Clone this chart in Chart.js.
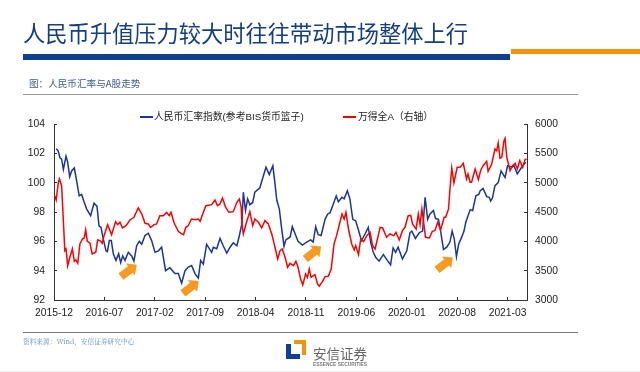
<!DOCTYPE html>
<html>
<head>
<meta charset="utf-8">
<script src="https://cdn.jsdelivr.net/npm/chart.js@4"></script>
<style>
  html, body { margin: 0; padding: 0; background: #fff; }
  #page { position: relative; width: 640px; height: 372px; overflow: hidden; font-family: "Noto Sans CJK SC", sans-serif; }
  #page div, #page svg { position: absolute; white-space: nowrap; }
  canvas { position: absolute; left: 0; top: 0; }
  .legend { font: 9.8px "Liberation Sans", "Noto Sans CJK SC", sans-serif; color: #222; line-height: 12px; top: 111px; }
</style>
</head>
<body>
<div id="page">
  <canvas id="rateChart" width="640" height="372"></canvas>
  <div style="left:23px;top:17px;font-size:22.25px;line-height:30px;color:#123f86;">人民币升值压力较大时往往带动市场整体上行</div>
  <div style="left:23px;top:54px;width:487px;height:6px;background:#0d3f8f;"></div>
  <div style="left:511px;top:49px;width:129px;height:5px;background:#f7930a;"></div>
  <div style="left:29px;top:76px;font-size:9.6px;line-height:14px;color:#3c5f94;">图：人民币汇率与A股走势</div>
  <div style="left:23px;top:94px;width:555px;height:1px;background:#999;"></div>
  <div style="left:140px;top:116px;width:13px;height:1.5px;background:#1a369c;"></div>
  <div class="legend" style="left:154px;">人民币汇率指数(参考BIS货币篮子)</div>
  <div style="left:343px;top:116px;width:13px;height:1.5px;background:#ff0000;"></div>
  <div class="legend" style="left:358px;">万得全A（右轴）</div>
  <div style="left:23px;top:332px;width:555px;height:1px;background:#777;"></div>
  <div style="left:23px;top:336px;font:6.7px/10px 'Noto Serif CJK SC','Liberation Serif','Noto Sans CJK SC',serif;color:#5f8cc8;">资料来源：Wind，安信证券研究中心</div>
  <svg style="left:285px;top:339px;" width="22" height="21" viewBox="0 0 22 21">
    <polygon points="1,5 6,5 6,15 15,15 15,20 1,20" fill="#0d3f9f"/>
    <polygon points="9,1 21,1 21,16 17,16 17,5 9,5" fill="#f7930a"/>
  </svg>
  <div style="left:313px;top:343px;font-size:13.5px;line-height:20px;color:#666;">安信证券</div>
  <div style="left:313px;top:361px;font:bold 4.9px/7px 'Liberation Sans',sans-serif;color:#777;">ESSENCE SECURITIES</div>
  <div style="left:0;top:371px;width:640px;height:1px;background:#eee;"></div>
</div>
<script>
const xLabels = ['2015-12', '2016-07', '2017-02', '2017-09', '2018-04', '2018-11', '2019-06', '2020-01', '2020-08', '2021-03'];

const rateName = '人民币汇率指数(参考BIS货币篮子)';
const stockName = '万得全A（右轴）';

// months since 2015-12
const rateMonths = [0.3, 0.55, 0.83, 1.06, 1.3, 1.67, 1.9, 2.18, 2.45, 2.82, 3.15, 3.5, 3.84, 4.17, 4.54, 5.09, 5.56, 5.97, 6.25, 6.53, 6.85, 7.22, 7.41, 7.69, 7.96, 8.24, 8.61, 8.98, 9.26, 9.54, 9.86, 10.32, 10.79, 11.1, 11.48, 11.85, 12.18, 12.64, 13.1, 13.56, 14.03, 14.5, 14.95, 15.5, 16.1, 16.8, 17.27, 17.73, 18.2, 18.66, 19.12, 19.58, 20.05, 20.37, 20.74, 21.2, 21.9, 22.13, 22.6, 23.06, 23.5, 24.0, 24.45, 24.9, 25.4, 25.75, 26.1, 26.3, 26.6, 26.9, 27.2, 27.6, 27.9, 28.6, 28.95, 29.45, 29.9, 30.4, 30.7, 30.95, 31.3, 31.6, 31.95, 32.2, 32.8, 33.1, 33.5, 33.9, 34.5, 35.1, 35.65, 36.0, 36.35, 36.7, 37.1, 37.65, 38.0, 38.35, 38.8, 39.2, 39.5, 40.0, 40.3, 40.75, 41.1, 41.5, 41.9, 42.3, 42.7, 43.2, 43.65, 44.0, 44.35, 44.7, 45.15, 45.75, 46.3, 46.75, 47.1, 47.45, 47.8, 48.4, 49.0, 49.45, 49.7, 50.2, 50.75, 51.2, 51.55, 51.9, 52.2, 52.7, 53.0, 53.4, 53.7, 54.1, 54.55, 55.0, 55.3, 55.6, 55.9, 56.2, 56.6, 56.95, 57.2, 57.8, 58.15, 58.6, 59.0, 59.2, 59.6, 60.1, 60.45, 60.65, 60.9, 61.25, 61.7, 62.1, 62.65, 63.0, 63.6, 63.9, 64.35, 64.95, 65.55];
const rateValues = [102.3, 102.2, 101.7, 101.6, 100.9, 101.8, 101.4, 100.4, 100.8, 101.0, 100.1, 99.1, 99.2, 98.7, 98.2, 97.75, 98.6, 98.4, 97.05, 96.95, 96.15, 95.35, 95.3, 96.05, 96.05, 95.15, 94.7, 95.15, 94.55, 95.0, 94.7, 95.25, 95.0, 94.65, 95.7, 96.0, 95.8, 96.4, 96.55, 96.05, 95.25, 95.35, 95.6, 94.0, 94.2, 93.8, 93.8, 93.15, 94.0, 94.25, 94.35, 93.8, 93.5, 94.7, 94.45, 95.8, 95.25, 95.6, 95.5, 96.2, 95.7, 95.2, 95.6, 95.9, 95.7, 96.4, 97.2, 99.35, 98.1, 98.9, 98.5, 98.65, 99.35, 99.65, 100.25, 101.05, 100.55, 101.15, 99.9, 98.8, 98.2, 96.95, 95.65, 96.1, 96.3, 97.0, 96.5, 96.0, 95.75, 95.95, 96.1, 95.95, 97.0, 96.45, 96.4, 97.5, 97.85, 97.95, 98.55, 99.1, 98.7, 99.0, 98.9, 99.45, 98.9, 97.5, 97.4, 96.75, 96.05, 96.5, 96.95, 95.9, 95.25, 94.9, 94.65, 95.1, 94.7, 94.4, 95.55, 95.25, 95.6, 94.8, 95.35, 96.6, 96.7, 96.2, 96.6, 96.7, 99.0, 97.5, 97.85, 98.1, 97.55, 97.5, 96.7, 95.45, 95.6, 95.95, 96.7, 96.15, 94.95, 95.8, 96.25, 96.7, 97.3, 98.15, 98.1, 99.1, 99.2, 99.45, 99.6, 99.05, 99.0, 98.75, 98.95, 99.8, 100.0, 100.8, 100.35, 101.15, 101.05, 101.15, 100.6, 101.05, 101.4];

const stockMonths = [0.1, 0.3, 0.6, 0.75, 1.06, 1.3, 1.5, 1.67, 1.9, 2.2, 2.55, 2.82, 3.05, 3.3, 3.6, 3.95, 4.2, 4.4, 4.63, 5.0, 5.3, 5.8, 6.06, 6.4, 6.7, 6.95, 7.45, 8.0, 8.56, 8.84, 9.17, 9.5, 10.0, 10.55, 11.1, 11.7, 12.2, 12.64, 13.1, 13.4, 13.9, 14.25, 14.7, 15.2, 15.65, 16.0, 16.25, 16.7, 17.27, 17.64, 18.0, 18.3, 18.66, 19.1, 19.6, 20.0, 20.3, 20.65, 21.1, 21.9, 22.36, 22.7, 23.05, 23.4, 23.85, 24.3, 24.9, 25.4, 25.75, 26.0, 26.1, 26.3, 26.67, 27.2, 27.6, 27.9, 28.4, 28.85, 29.3, 29.77, 30.25, 30.7, 31.07, 31.4, 31.7, 32.1, 32.45, 32.8, 33.25, 33.6, 33.9, 34.25, 34.55, 34.95, 35.2, 35.45, 35.7, 36.25, 36.6, 36.85, 37.3, 37.65, 38.1, 38.5, 38.9, 39.25, 39.6, 40.0, 40.3, 40.55, 40.9, 41.35, 41.7, 41.9, 42.3, 42.6, 43.0, 43.45, 43.9, 44.25, 44.6, 45.3, 45.65, 46.2, 46.67, 47.2, 47.5, 47.95, 48.4, 48.75, 49.2, 49.55, 49.8, 50.3, 50.6, 50.85, 51.1, 51.4, 51.6, 52.15, 52.55, 52.9, 53.3, 53.7, 54.2, 54.4, 54.8, 55.0, 55.25, 55.55, 56.0, 56.4, 56.85, 57.3, 57.5, 57.8, 58.0, 58.5, 58.95, 59.25, 59.6, 60.1, 60.3, 60.8, 61.25, 61.5, 61.7, 61.95, 62.2, 62.5, 62.65, 62.9, 63.35, 63.7, 64.05, 64.35, 64.7, 65.1, 65.4, 65.65];
const stockValues = [4779, 4705, 5006, 5063, 4949, 4353, 3842, 3870, 3586, 3728, 3870, 3660, 3683, 3626, 3955, 4040, 4057, 4194, 4001, 3967, 3785, 3813, 4023, 4012, 3967, 4097, 4285, 4114, 4336, 4285, 4325, 4228, 4268, 4364, 4410, 4569, 4466, 4307, 4296, 4239, 4285, 4296, 4438, 4438, 4495, 4438, 4495, 4307, 4171, 4137, 4114, 4239, 4268, 4381, 4370, 4381, 4341, 4466, 4608, 4625, 4705, 4608, 4636, 4739, 4580, 4495, 4506, 4665, 4722, 4580, 4296, 4125, 4296, 4506, 4268, 4381, 4325, 4228, 4353, 4296, 4125, 3898, 3700, 3842, 3870, 3728, 3558, 3626, 3586, 3660, 3558, 3359, 3257, 3444, 3387, 3529, 3387, 3432, 3274, 3234, 3319, 3399, 3404, 3529, 3955, 4097, 4268, 4466, 4381, 4495, 4211, 3955, 3853, 3927, 3773, 4040, 3995, 4097, 4154, 3927, 3870, 4239, 4228, 4069, 4125, 4097, 4154, 4023, 4182, 4239, 4438, 4444, 4296, 4211, 4466, 4285, 4552, 4268, 4069, 4057, 4171, 4182, 4325, 4194, 4410, 4410, 4552, 4892, 5250, 4995, 5261, 5261, 5330, 5063, 5148, 5006, 5006, 5233, 5051, 5205, 5290, 5364, 5193, 5318, 5574, 5545, 5676, 5415, 5432, 5716, 5756, 5432, 5205, 5290, 5330, 5233, 5375, 5261, 5387, 5404];

// arrows: [tail month, tail index, tip month, tip index]
const arrowSpots = [
  [9.3, 93.6, 11.5, 94.4],
  [17.9, 92.45, 20.1, 93.3],
  [34.9, 94.8, 37.1, 95.65],
  [53.2, 94.05, 55.4, 94.9]
];

const toPoints = (months, values) => months.map((m, i) => ({ x: m, y: values[i] }));

const arrowPlugin = {
  id: 'arrows',
  afterDatasetsDraw(chart) {
    const ctx = chart.ctx;
    const sx = chart.scales.x, sy = chart.scales.y;
    arrowSpots.forEach((a) => {
      const x0 = sx.getPixelForValue(a[0]), y0 = sy.getPixelForValue(a[1]);
      const x1 = sx.getPixelForValue(a[2]), y1 = sy.getPixelForValue(a[3]);
      const len = Math.hypot(x1 - x0, y1 - y0);
      ctx.save();
      ctx.translate(x0, y0);
      ctx.rotate(Math.atan2(y1 - y0, x1 - x0));
      ctx.fillStyle = '#f79a1e';
      ctx.beginPath();
      ctx.moveTo(0, -4);
      ctx.lineTo(len - 8, -4);
      ctx.lineTo(len - 8, -7.5);
      ctx.lineTo(len, 0);
      ctx.lineTo(len - 8, 7.5);
      ctx.lineTo(len - 8, 4);
      ctx.lineTo(0, 4);
      ctx.closePath();
      ctx.fill();
      ctx.restore();
    });
  }
};

const tickFont = { family: '"Liberation Sans", Arial, sans-serif', size: 10.3 };
const axisColor = '#333';

new Chart(document.getElementById('rateChart').getContext('2d'), {
  type: 'line',
  data: {
    datasets: [{
      label: stockName,
      data: toPoints(stockMonths, stockValues),
      yAxisID: 'y2',
      borderColor: '#ff0000',
      borderWidth: 1.5,
      pointRadius: 0,
      tension: 0
    }, {
      label: rateName,
      data: toPoints(rateMonths, rateValues),
      yAxisID: 'y',
      borderColor: '#1a369c',
      borderWidth: 1.5,
      pointRadius: 0,
      tension: 0
    }]
  },
  options: {
    responsive: false,
    animation: false,
    layout: { padding: { top: 124, left: 0, right: 0, bottom: 0 } },
    plugins: { legend: { display: false }, tooltip: { enabled: false } },
    scales: {
      x: {
        type: 'linear',
        min: 0,
        max: 65.7,
        afterFit: (s) => { s.height = 72; },
        border: { color: axisColor },
        grid: { drawOnChartArea: false, tickLength: -3, tickColor: axisColor },
        ticks: {
          stepSize: 7,
          includeBounds: false,
          maxRotation: 0,
          padding: 10,
          color: '#222',
          font: tickFont,
          callback: (v) => xLabels[v / 7]
        }
      },
      y: {
        position: 'left',
        min: 92,
        max: 104,
        afterFit: (s) => { s.width = 54; },
        border: { color: axisColor },
        grid: { drawOnChartArea: false, tickLength: -3, tickColor: axisColor },
        ticks: { stepSize: 2, padding: 12, color: '#222', font: tickFont }
      },
      y2: {
        position: 'right',
        min: 3000,
        max: 6000,
        afterFit: (s) => { s.width = 113; },
        border: { color: axisColor },
        grid: { drawOnChartArea: false, tickLength: -3, tickColor: axisColor },
        ticks: { stepSize: 500, padding: 11, color: '#222', font: tickFont, callback: (v) => String(v) }
      }
    }
  },
  plugins: [arrowPlugin]
});
</script>
</body>
</html>
